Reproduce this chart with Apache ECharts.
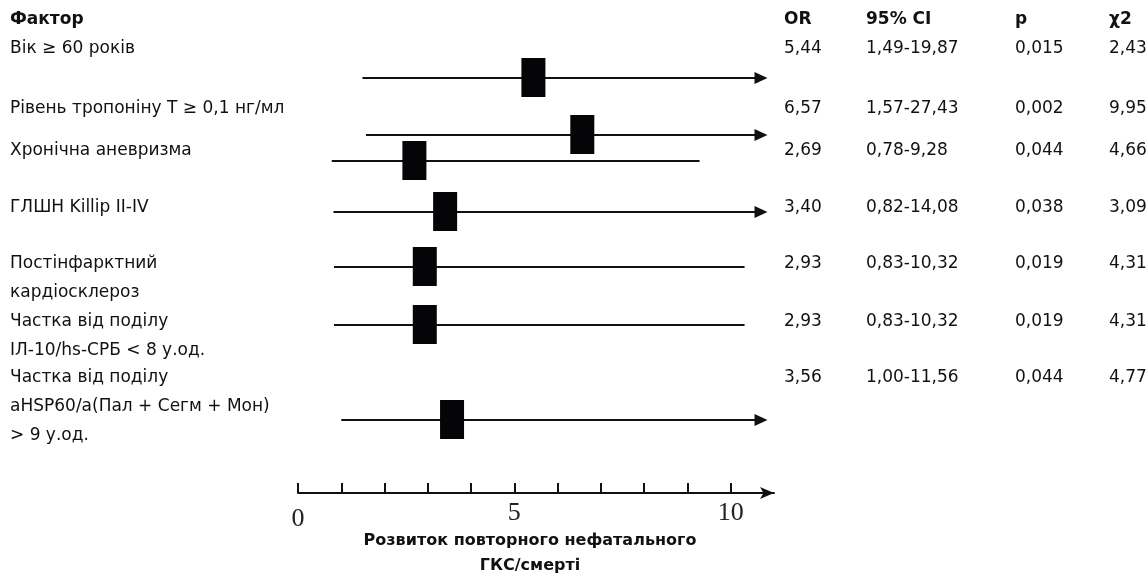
<!DOCTYPE html>
<html>
<head>
<meta charset="utf-8">
<script src="https://cdn.jsdelivr.net/npm/echarts@6/dist/echarts.min.js"></script>
<style>
  html, body { margin: 0; padding: 0; background: #fff; }
  #chart { width: 1148px; height: 574px; }
</style>
</head>
<body>
<div id="chart"></div>
<script>
// rows of the forest plot
var factors = [
  'Вік ≥ 60 років',
  'Рівень тропоніну Т ≥ 0,1 нг/мл',
  'Хронічна аневризма',
  'ГЛШН Killip II-IV',
  'Постінфарктний\nкардіосклероз',
  'Частка від поділу\nІЛ-10/hs-СРБ < 8 у.од.',
  'Частка від поділу\naHSP60/a(Пал + Сегм + Мон)\n> 9 у.од.'
]
var orValues = [5.44, 6.57, 2.69, 3.40, 2.93, 2.93, 3.56]
var ciLow = [1.49, 1.57, 0.78, 0.82, 0.83, 0.83, 1.00]
var ciHigh = [19.87, 27.43, 9.28, 14.08, 10.32, 10.32, 11.56]
var ciText = ['1,49-19,87', '1,57-27,43', '0,78-9,28', '0,82-14,08', '0,83-10,32', '0,83-10,32', '1,00-11,56']
var pValues = ['0,015', '0,002', '0,044', '0,038', '0,019', '0,019', '0,044']
var chi2Values = ['2,43', '9,95', '4,66', '3,09', '4,31', '4,31', '4,77']
var tickValues = [0, 1, 2, 3, 4, 5, 6, 7, 8, 9, 10]
var labelValues = [0, 5, 10]

// layout (pixels): y of each row's line, y of each row's first text line
var rowLineY = [78, 135, 161, 212, 267, 325, 420]
var rowTextY = [49, 109, 151, 208, 264, 322, 378]
var headerY = 20
var lineStep = 29
var colX = [784, 866, 1015, 1109]
var xClip = 10.85   // where an open-ended CI gets its arrow

var fmt = function (v) { return v.toFixed(2).replace('.', ',') }

var data = orValues.map(function (v, i) {
  return [ciLow[i], v, ciHigh[i], rowLineY[i]]
})

var chart = echarts.init(document.getElementById('chart'))

var texts = []
var bodyFont = 'DejaVu Sans'
function addText(x, y, str, bold) {
  texts.push({
    type: 'text', x: x, y: y,
    style: {
      text: str, fill: '#111', font: (bold ? 'bold ' : '') + '17px "' + bodyFont + '"',
      textAlign: 'left', textVerticalAlign: 'middle'
    }
  })
}
addText(10, headerY, 'Фактор', true)
addText(colX[0], headerY, 'OR', true)
addText(colX[1], headerY, '95% CI', true)
addText(colX[2], headerY, 'p', true)
addText(colX[3], headerY, 'χ2', true)
factors.forEach(function (f, i) {
  f.split('\n').forEach(function (line, j) {
    addText(10, rowTextY[i] + j * lineStep, line)
  })
  addText(colX[0], rowTextY[i], fmt(orValues[i]))
  addText(colX[1], rowTextY[i], ciText[i])
  addText(colX[2], rowTextY[i], pValues[i])
  addText(colX[3], rowTextY[i], chi2Values[i])
})

var serif = { fontFamily: 'Liberation Serif', fontSize: 26, color: '#222' }

var option = {
  animation: false,
  backgroundColor: '#fff',
  grid: { left: 298, right: 374, top: 0, bottom: 81, outerBoundsMode: 'none', containLabel: false },
  xAxis: {
    type: 'value', min: 0, max: 11, interval: 1, position: 'bottom',
    splitLine: { show: false },
    axisLine: { onZero: false, lineStyle: { color: '#111', width: 2 }, symbol: ['none', 'arrow'], symbolSize: [9, 14] },
    axisTick: { inside: true, length: 10, lineStyle: { color: '#111', width: 2 }, customValues: tickValues },
    axisLabel: {
      customValues: labelValues, margin: 7,
      fontFamily: serif.fontFamily, fontSize: serif.fontSize, color: serif.color,
      formatter: function (v) { return v === 0 ? '{z|0}' : String(v) },
      rich: { z: { fontFamily: serif.fontFamily, fontSize: serif.fontSize, color: serif.color, padding: [6, 0, 0, 0] } }
    },
    name: 'Розвиток повторного нефатального\nГКС/смерті',
    nameLocation: 'middle', nameGap: 35, nameMoveOverlap: false,
    nameTextStyle: { fontFamily: bodyFont, fontWeight: 'bold', fontSize: 16, color: '#111', lineHeight: 25, padding: [0, 12, 0, 0] }
  },
  yAxis: { type: 'value', min: 0, max: 493, inverse: true, show: false },
  series: [{
    type: 'custom',
    data: data,
    renderItem: function (params, api) {
      var lo = api.value(0), or = api.value(1), hi = api.value(2), y = api.value(3)
      var open = hi > xClip
      var pLo = api.coord([lo, y])
      var pHi = api.coord([open ? xClip : hi, y])
      var pOr = api.coord([or, y])
      var children = [{
        type: 'line',
        shape: { x1: pLo[0], y1: pLo[1], x2: open ? pHi[0] - 8 : pHi[0], y2: pHi[1] },
        style: { stroke: '#111', lineWidth: 2 }
      }, {
        type: 'rect',
        shape: { x: pOr[0] - 12, y: pOr[1] - 20, width: 24, height: 39 },
        style: { fill: '#050508' }
      }]
      if (open) {
        children.push({
          type: 'polygon',
          shape: { points: [[pHi[0], pHi[1]], [pHi[0] - 13, pHi[1] - 6], [pHi[0] - 13, pHi[1] + 6]] },
          style: { fill: '#111' }
        })
      }
      return { type: 'group', children: children }
    }
  }],
  graphic: texts
}
chart.setOption(option)
</script>
</body>
</html>
